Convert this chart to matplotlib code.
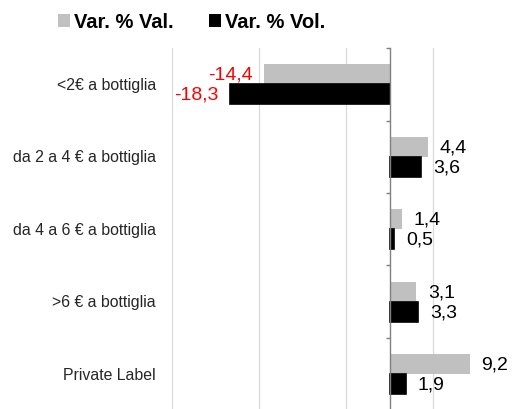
import numpy as np
import matplotlib
matplotlib.use("Agg")
import matplotlib.pyplot as plt
import matplotlib.transforms as mtransforms
from matplotlib.patches import Patch

plt.rcParams['font.family'] = ['Liberation Sans', 'DejaVu Sans']

categories = ["<2€ a bottiglia", "da 2 a 4 € a bottiglia", "da 4 a 6 € a bottiglia",
              ">6 € a bottiglia", "Private Label"]
var_val = [-14.4, 4.4, 1.4, 3.1, 9.2]
var_vol = [-18.3, 3.6, 0.5, 3.3, 1.9]
series_names = ["Var. % Val.", "Var. % Vol."]

fig = plt.figure(figsize=(5.16, 4.10), dpi=100)
ax = fig.add_axes([172 / 516, -0.003, 1 - 172 / 516, 0.883])

y = np.arange(len(categories))
h = 0.276
b1 = ax.barh(y - h / 2, var_val, height=h, color="#C0C0C0", zorder=2)
b2 = ax.barh(y + h / 2, var_vol, height=h, color="#000000", edgecolor="#000000",
             linewidth=1.2, zorder=2)

ax.set_xlim(-25, 14.54)
ax.set_ylim(len(categories) - 0.5, -0.5)

# gridlines every 10, offset by 5
ax.set_xticks([-25, -15, -5, 5])
ax.tick_params(axis='x', length=0, labelbottom=False)
ax.grid(axis='x', color="#D9D9D9", linewidth=0.9)
ax.set_axisbelow(True)

# vertical axis at zero with ticks at category boundaries
ax.spines['left'].set_position(('data', 0))
ax.spines['left'].set_color("#808080")
ax.spines['left'].set_linewidth(1.0)
ax.spines['left'].set_zorder(3)
for s in ['top', 'right', 'bottom']:
    ax.spines[s].set_visible(False)
ax.set_yticks(np.arange(len(categories) + 1) - 0.5)
ax.set_yticklabels([])
ax.tick_params(axis='y', length=3, width=1, color="#808080", direction='out')

trans = mtransforms.blended_transform_factory(ax.transAxes, ax.transData)
for yi, cat in zip(y, categories):
    ax.annotate(cat, xy=(0, yi), xycoords=trans, xytext=(-11.5, 0),
                textcoords='offset points', ha='right', va='center',
                fontsize=11.4, color="#262626")

def fmt(v):
    return f"{v:.1f}".replace('.', ',')

for bars, vals in [(b1, var_val), (b2, var_vol)]:
    texts = ax.bar_label(bars, labels=[fmt(v) for v in vals], padding=8.6,
                         fontsize=14, clip_on=False)
    for t, v in zip(texts, vals):
        t.set_color("#FF0000" if v < 0 else "#000000")

handles = [Patch(facecolor="#C0C0C0"), Patch(facecolor="#000000")]
fig.legend(handles, series_names, loc='center left', bbox_to_anchor=(58 / 516, 1 - 23 / 410),
           ncol=2, frameon=False, prop={'size': 14.5, 'weight': 'bold'},
           handlelength=0.6, handleheight=0.6, handletextpad=0.2,
           columnspacing=1.75, borderpad=0, borderaxespad=0)

fig.savefig("out.png", dpi=100)
